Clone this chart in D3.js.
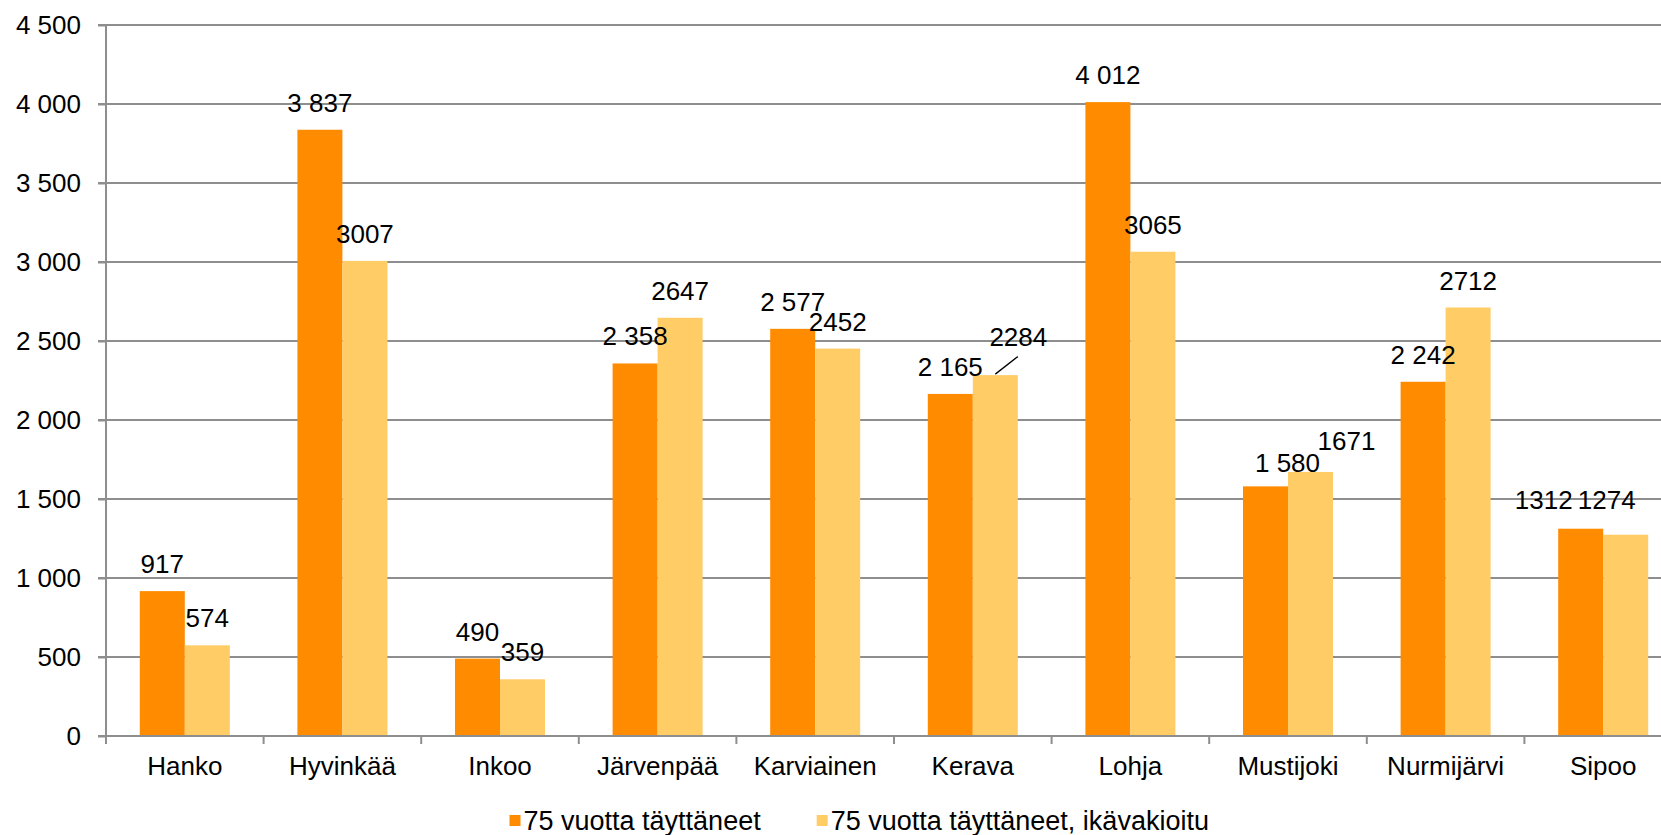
<!DOCTYPE html>
<html><head><meta charset="utf-8">
<script src="https://cdn.jsdelivr.net/npm/d3@7"></script>
<style>
body{margin:0;background:#fff;}
svg{display:block;font-family:"Liberation Sans",Arial,sans-serif;}
</style>
</head><body>
<svg id="chart" width="1661" height="835"></svg>
<script>
// ---- data ----
const categories = ["Hanko","Hyvinkää","Inkoo","Järvenpää","Karviainen","Kerava","Lohja","Mustijoki","Nurmijärvi","Sipoo"];
const seriesNames = ["75 vuotta täyttäneet","75 vuotta täyttäneet, ikävakioitu"];
const valuesA = [917,3837,490,2358,2577,2165,4012,1580,2242,1312];
const valuesB = [574,3007,359,2647,2452,2284,3065,1671,2712,1274];
const labelsA = ["917","3 837","490","2 358","2 577","2 165","4 012","1 580","2 242","1312"];
const labelsB = ["574","3007","359","2647","2452","2284","3065","1671","2712","1274"];
const yTicks = [0,500,1000,1500,2000,2500,3000,3500,4000,4500];
const yTickLabels = ["0","500","1 000","1 500","2 000","2 500","3 000","3 500","4 000","4 500"];
// manual label nudges in the original chart [dx, dy] px
const nudgeA = [[0,0],[0,0],[0,0],[0,0],[0,0],[0,0],[0,0],[22,4],[0,0],[-37,-2]];
const nudgeB = [[0,0],[0,0],[0,0],[0,0],[0,0],[23,-11],[0,0],[36,-4],[0,0],[-19,-8]];
const leaderB = [false,false,false,false,false,true,false,false,false,false];

const colors = ["#FF8C00","#FFCC66"];

(function draw() {
  const svg = d3.select("#chart");
  const plotLeft = 106, plotTop = 25, plotBottom = 736;
  const step = 157.6;
  const plotRight = plotLeft + step * categories.length;

  const x0 = d3.scaleBand().domain(categories).range([plotLeft, plotRight]).padding(0);
  const x1 = d3.scaleBand().domain([0,1]).range([0, x0.bandwidth()]).paddingInner(0).paddingOuter(0.751);
  const y = d3.scaleLinear().domain([0,4500]).range([plotBottom, plotTop]);
  const gridColor = "#8e8e8e";
  const font = '"Liberation Sans",Arial,sans-serif';

  // gridlines
  svg.append("g").selectAll("line").data(yTicks).join("line")
    .attr("x1", plotLeft - 8).attr("x2", plotRight)
    .attr("y1", d => y(d)).attr("y2", d => y(d))
    .attr("stroke", gridColor).attr("stroke-width", 2);

  // y axis
  const yAxis = d3.axisLeft(y).tickValues(yTicks).tickSize(8).tickPadding(17)
    .tickFormat((d,i) => yTickLabels[i]);
  const gy = svg.append("g").attr("transform", `translate(${plotLeft},0)`).call(yAxis);
  gy.select(".domain").remove();
  gy.selectAll(".tick line").attr("stroke", gridColor).attr("stroke-width", 2);
  gy.selectAll(".tick text").attr("font-size", 26).attr("fill", "#000").attr("font-family", font);
  svg.append("line").attr("x1", plotLeft).attr("x2", plotLeft).attr("y1", plotTop - 1).attr("y2", plotBottom + 1)
    .attr("stroke", gridColor).attr("stroke-width", 2);

  // bars
  const series = [valuesA, valuesB];
  const labels = [labelsA, labelsB];
  const nudges = [nudgeA, nudgeB];
  series.forEach((vals, s) => {
    svg.append("g").selectAll("rect").data(vals).join("rect")
      .attr("x", (d,i) => x0(categories[i]) + x1(s))
      .attr("width", x1.bandwidth())
      .attr("y", d => y(d))
      .attr("height", d => plotBottom - y(d))
      .attr("fill", colors[s]);
  });

  // x axis line & boundary ticks
  svg.append("line").attr("x1", plotLeft - 8).attr("x2", plotRight).attr("y1", plotBottom).attr("y2", plotBottom)
    .attr("stroke", gridColor).attr("stroke-width", 2);
  const bounds = categories.map(c => x0(c)).concat([plotRight]);
  svg.append("g").selectAll("line").data(bounds).join("line")
    .attr("x1", d => d).attr("x2", d => d).attr("y1", plotBottom).attr("y2", plotBottom + 8)
    .attr("stroke", gridColor).attr("stroke-width", 2);

  // category labels
  const xAxis = d3.axisBottom(x0).tickSize(0).tickPadding(21);
  const gx = svg.append("g").attr("transform", `translate(0,${plotBottom})`).call(xAxis);
  gx.select(".domain").remove();
  gx.selectAll(".tick text").attr("font-size", 26).attr("fill", "#000").attr("font-family", font);

  // data labels
  series.forEach((vals, s) => {
    const g = svg.append("g");
    vals.forEach((v, i) => {
      const cx = x0(categories[i]) + x1(s) + x1.bandwidth() / 2;
      const by = y(v);
      const [dx, dy] = nudges[s][i];
      g.append("text")
        .attr("x", cx + dx).attr("y", by - 18 + dy)
        .attr("text-anchor", "middle")
        .attr("font-size", 26).attr("fill", "#000")
        .text(labels[s][i]);
      if (s === 1 && leaderB[i]) {
        g.append("line")
          .attr("x1", cx).attr("y1", by - 1)
          .attr("x2", cx + dx - 0.5).attr("y2", by - 18 + dy + 10.5)
          .attr("stroke", "#000").attr("stroke-width", 1.3);
      }
    });
  });

  // legend
  const legendX = [509.5, 816.7];
  const lg = svg.append("g");
  seriesNames.forEach((name, s) => {
    lg.append("rect").attr("x", legendX[s]).attr("y", 815).attr("width", 11).attr("height", 11)
      .attr("fill", colors[s]);
    lg.append("text").attr("x", legendX[s] + 14).attr("y", 830)
      .attr("font-size", 27).attr("fill", "#000").text(name);
  });
})();
</script>
</body></html>
